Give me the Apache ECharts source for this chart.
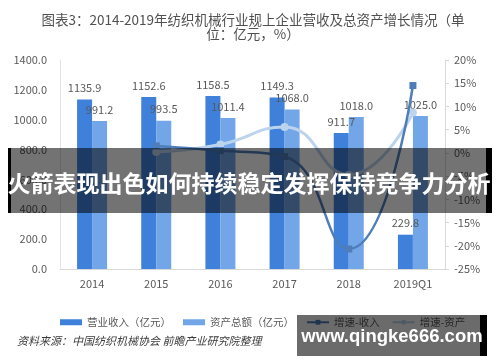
<!DOCTYPE html>
<html><head><meta charset="utf-8">
<script src="https://cdn.jsdelivr.net/npm/echarts@6/dist/echarts.min.js"></script>
<style>html,body{margin:0;padding:0;background:#fff;}#c{width:500px;height:362px;}</style>
</head><body><div id="c"></div>
<script>
const categories = ['2014','2015','2016','2017','2018','2019Q1'];
const revenue = [1135.9, 1152.6, 1158.5, 1149.3, 911.7, 229.8];
const assets = [991.2, 993.5, 1011.4, 1068.0, 1018.0, 1025.0];
const revenueGrowth = [null, 1.5, 0.5, -0.8, -20.7, 14.5];
const assetGrowth = [null, 0.2, 1.8, 5.6, -4.7, 8.7];
const seriesNames = ['营业收入（亿元）','资产总额（亿元）','增速-收入','增速-资产'];
const titleText = '图表3：2014-2019年纺织机械行业规上企业营收及总资产增长情况（单\n位：亿元，%）';
const sourceText = '资料来源：中国纺织机械协会 前瞻产业研究院整理';
const bannerText = '火箭表现出色如何持续稳定发挥保持竞争力分析';
const watermarkText = 'www.qingke666.com';

const chart = echarts.init(document.getElementById('c'), null, {renderer:'canvas'});
const ff = '"Noto Sans CJK SC","Noto Sans",sans-serif';
const gray = '#595959';
chart.setOption({
  animation:false,
  textStyle:{fontFamily:ff},
  title:{text:titleText,left:248,top:8,textAlign:'center',
    textStyle:{fontSize:13.5,fontWeight:'normal',color:'#505050',lineHeight:14,fontFamily:ff}},
  legend:{left:55,top:312,itemWidth:22,itemHeight:6,itemGap:12,
    textStyle:{fontSize:10.5,color:gray},
    data:[{name:seriesNames[0],icon:'rect'},{name:seriesNames[1],icon:'rect'},{name:seriesNames[2]},{name:seriesNames[3]}]},
  grid:{left:60,right:55,top:60,bottom:93},
  xAxis:{type:'category',data:categories,
    axisLine:{lineStyle:{color:'#d9d9d9'}},axisTick:{show:false},
    axisLabel:{color:gray,fontSize:11,margin:9}},
  yAxis:[
    {type:'value',min:0,max:1400,interval:200,
     axisLine:{show:true,lineStyle:{color:'#e3e3e3'}},axisTick:{show:false},splitLine:{show:false},
     axisLabel:{color:gray,fontSize:11,margin:13,formatter:v=>v.toFixed(1)}},
    {type:'value',min:-25,max:20,interval:5,position:'right',
     axisLine:{show:true,lineStyle:{color:'#d9d9d9'}},axisTick:{show:true,length:4,inside:false,lineStyle:{color:'#d9d9d9'}},splitLine:{show:false},
     axisLabel:{color:gray,fontSize:11,margin:9,formatter:'{value}%'}}
  ],
  series:[
    {name:seriesNames[0],type:'bar',data:revenue,barWidth:15,barGap:'0%',
     itemStyle:{color:'#3F80DB'},
     label:{show:true,position:'top',distance:6,color:gray,fontSize:11,formatter:p=>p.value.toFixed(1)}},
    {name:seriesNames[1],type:'bar',data:assets,barWidth:15,
     itemStyle:{color:'#72A6E8'},
     label:{show:true,position:'top',distance:6,color:gray,fontSize:11,formatter:p=>p.value.toFixed(1)}},
    {name:seriesNames[2],type:'line',yAxisIndex:1,data:revenueGrowth,smooth:true,
     symbol:'rect',symbolSize:7,lineStyle:{width:2.5,color:'#4E7DBA'},itemStyle:{color:'#4E7DBA'},z:5},
    {name:seriesNames[3],type:'line',yAxisIndex:1,data:assetGrowth,smooth:true,
     symbol:'circle',symbolSize:8,lineStyle:{width:3,color:'#BCD3EE'},itemStyle:{color:'#BCD3EE'},z:4}
  ],
  graphic:[
    {type:'text',left:17,top:335,style:{text:sourceText,fontSize:11,fontStyle:'italic',fill:'#3a3a3a',fontFamily:ff}},
    {type:'rect',shape:{x:11,y:148,width:475,height:65},style:{fill:'rgba(0,0,0,0.55)'},z:100},
    {type:'rect',shape:{x:8,y:148,width:3,height:65},style:{fill:'#000'},z:100},
    {type:'rect',shape:{x:486,y:148,width:6,height:65},style:{fill:'#000'},z:100},
    {type:'text',x:249,y:183,z:101,style:{text:bannerText,fontSize:23,fontWeight:'bold',fill:'#fff',align:'center',verticalAlign:'middle',fontFamily:ff}},
    {type:'rect',shape:{x:297,y:315,width:183,height:41},style:{fill:'rgba(0,0,0,0.58)'},z:100},
    {type:'rect',shape:{x:480,y:315,width:7,height:41},style:{fill:'#000'},z:100},
    {type:'text',x:392,y:337,z:101,style:{text:watermarkText,fontSize:18.5,fontWeight:'bold',fill:'#fff',align:'center',verticalAlign:'middle',fontFamily:'"Liberation Sans",Arial,sans-serif'}}
  ]
});
</script></body></html>
